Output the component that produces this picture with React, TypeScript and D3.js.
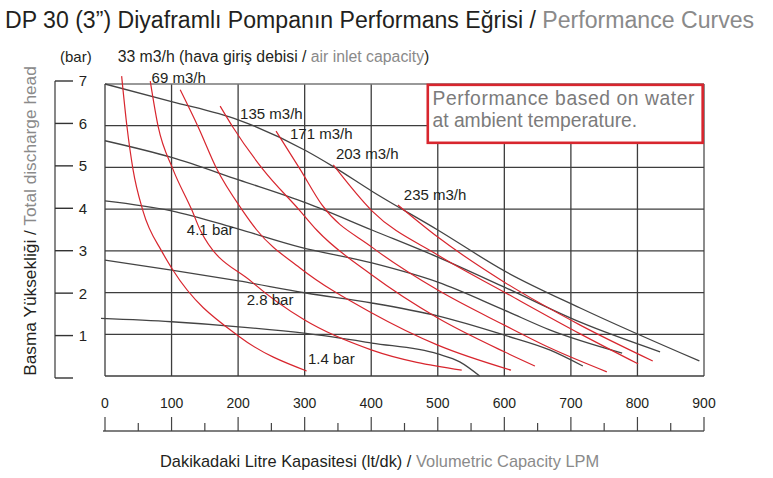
import * as d3 from 'd3';

// eksen değerleri
const flowTicks = [0, 100, 200, 300, 400, 500, 600, 700, 800, 900];
const flowMinorTicks = [50, 150, 250, 350, 450, 550, 650, 750, 850];
const headTicks = [0, 1, 2, 3, 4, 5, 6, 7];

// hava giriş debisi eğrileri (kırmızı) - lt/dk, bar
const air33Flow = [25, 33, 42, 57, 86, 102, 203, 303];
const air33Head = [7.19, 5.98, 4.96, 3.96, 2.97, 2.54, 0.93, 0.12];
const air69Flow = [68, 80, 102, 131, 143, 221, 300, 401, 536];
const air69Head = [7.07, 5.97, 4.96, 3.96, 3.5, 2.25, 1.34, 0.62, 0.14];
const air100Flow = [113, 140, 168, 207, 228, 293, 401, 500, 610];
const air100Head = [6.86, 5.97, 4.96, 3.96, 3.5, 2.59, 1.51, 0.74, 0.14];
const air135Flow = [173, 192, 237, 293, 318, 401, 500, 600, 646];
const air135Head = [6.47, 5.97, 4.96, 3.96, 3.5, 2.42, 1.39, 0.58, 0.24];
const air171Flow = [257, 293, 326, 401, 500, 600, 669, 754];
const air171Head = [5.87, 4.96, 4.1, 3.09, 2.06, 1.22, 0.67, 0.1];
const air203Flow = [343, 401, 500, 600, 714, 801];
const air203Head = [5.06, 3.96, 2.9, 2.01, 1.01, 0.29];
const air235Flow = [440, 500, 600, 714, 823];
const air235Head = [4.1, 3.33, 2.25, 1.22, 0.36];

// hava basıncı eğrileri (siyah)
const bar7Flow = [0, 100, 200, 302, 343, 401, 500, 600, 714, 893];
const bar7Head = [7.0, 6.58, 6.14, 5.4, 5.02, 4.43, 3.5, 2.52, 1.63, 0.36];
const bar56Flow = [0, 100, 201, 302, 401, 500, 600, 714, 834];
const bar56Head = [5.64, 5.24, 4.7, 4.15, 3.5, 2.85, 2.13, 1.29, 0.58];
const bar41Flow = [0, 100, 201, 293, 401, 500, 600, 669, 777];
const bar41Head = [4.2, 3.96, 3.52, 3.09, 2.71, 2.25, 1.58, 1.1, 0.55];
const bar28Flow = [0, 100, 201, 302, 401, 500, 600, 669, 718];
const bar28Head = [2.78, 2.54, 2.28, 1.99, 1.75, 1.44, 0.98, 0.62, 0.24];
const bar14Flow = [-6, 100, 201, 302, 401, 500, 533, 563];
const bar14Head = [1.38, 1.3, 1.18, 1.02, 0.79, 0.53, 0.34, 0];

const redCurves = [
	[air33Flow, air33Head],
	[air69Flow, air69Head],
	[air100Flow, air100Head],
	[air135Flow, air135Head],
	[air171Flow, air171Head],
	[air203Flow, air203Head],
	[air235Flow, air235Head],
];
const blackCurves = [
	[bar7Flow, bar7Head],
	[bar56Flow, bar56Head],
	[bar41Flow, bar41Head],
	[bar28Flow, bar28Head],
	[bar14Flow, bar14Head],
];

const DARK = '#231f20';
const GRAY = '#8a8a8a';
const RED = '#d8262e';
const FONT = '"Liberation Sans", Arial, Helvetica, sans-serif';

export default function App() {
	const width = 773;
	const height = 478;

	const x = d3.scaleLinear().domain([0, 900]).range([105, 704]);
	const y = d3.scaleLinear().domain([0, 7]).range([376, 84]);
	// soldaki eksen grid ile tam hizalı değil
	const yAxis = d3.scaleLinear().domain([0, 7]).range([378, 81]);

	const line = d3
		.line<[number, number]>()
		.x((d) => x(d[0]))
		.y((d) => y(d[1]))
		.curve(d3.curveMonotoneX);

	const toPoints = (c: number[][]) =>
		c[0].map((f, i) => [f, c[1][i]] as [number, number]);

	const axisY = 431;

	return (
		<svg
			width={width}
			height={height}
			style={{ position: 'absolute', left: 0, top: 0, background: '#fff' }}
			fontFamily={FONT}
		>
			{/* başlık */}
			<text x={5} y={28} fontSize={23.1} fill={DARK}>
				DP 30 (3”) Diyaframlı Pompanın Performans Eğrisi /{' '}
				<tspan fill={GRAY}>Performance Curves</tspan>
			</text>

			{/* grid */}
			<g>
				{flowTicks.map((v) => (
					<line
						key={'gx' + v}
						x1={x(v)}
						x2={x(v)}
						y1={y(0)}
						y2={y(7)}
						stroke={v === 900 ? '#8c8c8c' : '#3d3d3d'}
						strokeWidth={v === 900 ? 2 : 1.3}
					/>
				))}
				{headTicks.map((h) => (
					<line
						key={'gy' + h}
						x1={x(0)}
						x2={x(900)}
						y1={y(h)}
						y2={y(h)}
						stroke={h === 7 ? '#777' : '#3d3d3d'}
						strokeWidth={1.3}
					/>
				))}
			</g>

			{/* not kutusu */}
			<rect
				x={x(485)}
				y={y(6.98)}
				width={x(898) - x(485)}
				height={y(5.59) - y(6.98)}
				fill="#fff"
				stroke={RED}
				strokeWidth={2.6}
			/>
			<g fontSize={19.3} fill="#7b7b7b">
				<text x={x(492)} y={y(6.49)} textLength={262} lengthAdjust="spacing">
					Performance based on water
				</text>
				<text x={x(492)} y={y(5.96)}>at ambient temperature.</text>
			</g>

			{/* eğriler */}
			{blackCurves.map((c, i) => (
				<path
					key={'b' + i}
					d={line(toPoints(c)) || ''}
					fill="none"
					stroke="#444"
					strokeWidth={1.3}
				/>
			))}
			{redCurves.map((c, i) => (
				<path
					key={'r' + i}
					d={line(toPoints(c)) || ''}
					fill="none"
					stroke={RED}
					strokeWidth={1.2}
				/>
			))}

			{/* eğri etiketleri */}
			<g fontSize={15} fill={DARK}>
				<text x={60} y={62}>(bar)</text>
				<text x={x(19)} y={62} fontSize={15.8}>
					33 m3/h (hava giriş debisi /{' '}
					<tspan fill={GRAY}>air inlet capacity</tspan>)
				</text>
				<text x={x(70)} y={y(7.03)}>69 m3/h</text>
				<text x={x(203)} y={y(6.16)}>135 m3/h</text>
				<text x={x(278)} y={y(5.69)}>171 m3/h</text>
				<text x={x(347)} y={y(5.21)}>203 m3/h</text>
				<text x={x(449)} y={y(4.22)}>235 m3/h</text>
				<text x={x(123)} y={y(3.37)}>4.1 bar</text>
				<text x={x(213)} y={y(1.71)}>2.8 bar</text>
				<text x={x(305)} y={y(0.29)}>1.4 bar</text>
			</g>

			{/* sol eksen */}
			<g>
				<line x1={55} x2={55} y1={yAxis(7)} y2={yAxis(0)} stroke="#555" strokeWidth={1.4} />
				{headTicks.map((h) => (
					<g key={'yt' + h}>
						<line x1={55} x2={73} y1={yAxis(h)} y2={yAxis(h)} stroke="#333" strokeWidth={1.4} />
						{h > 0 && (
							<text x={83} y={yAxis(h)} dy="0.36em" textAnchor="middle" fontSize={15} fill={DARK}>
								{h}
							</text>
						)}
					</g>
				))}
				<text
					transform="translate(36,221) rotate(-90)"
					textAnchor="middle"
					fontSize={17.3}
					fill={DARK}
				>
					Basma Yüksekliği / <tspan fill={GRAY}>Total discharge head</tspan>
				</text>
			</g>

			{/* alt eksen */}
			<g>
				<line x1={x(0) - 2} x2={x(900)} y1={axisY} y2={axisY} stroke="#555" strokeWidth={1.4} />
				{flowTicks.map((v) => (
					<g key={'xt' + v}>
						<line x1={x(v)} x2={x(v)} y1={axisY - 14} y2={axisY} stroke="#444" strokeWidth={1.2} />
						<text x={x(v)} y={408} textAnchor="middle" fontSize={14} fill={DARK}>
							{v}
						</text>
					</g>
				))}
				{flowMinorTicks.map((v) => (
					<line key={'xm' + v} x1={x(v)} x2={x(v)} y1={axisY - 8} y2={axisY} stroke="#444" strokeWidth={1.2} />
				))}
				<text x={160} y={467} fontSize={16.4} fill={DARK}>
					Dakikadaki Litre Kapasitesi (lt/dk) /{' '}
					<tspan fill={GRAY}>Volumetric Capacity LPM</tspan>
				</text>
			</g>
		</svg>
	);
}
